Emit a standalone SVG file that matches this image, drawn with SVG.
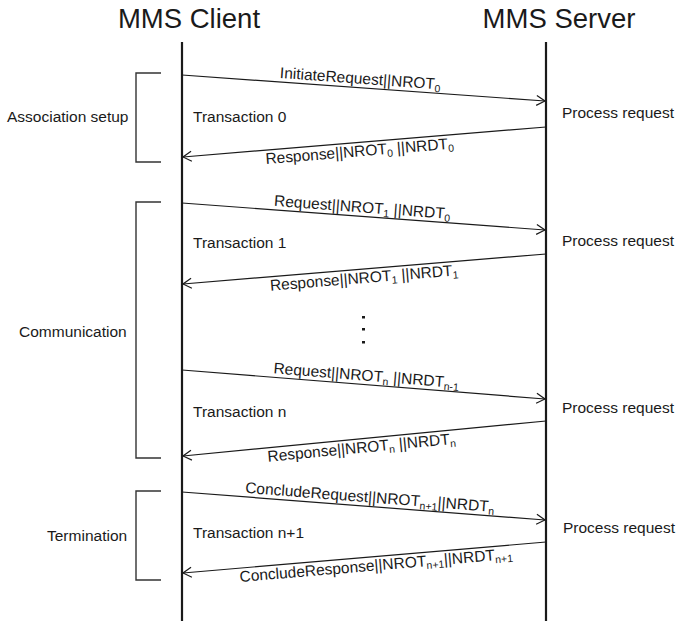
<svg xmlns="http://www.w3.org/2000/svg" width="676" height="621" viewBox="0 0 676 621">
<style>
text{font-family:"Liberation Sans",Arial,sans-serif;fill:#1a1a1a}
.title{font-size:27.5px;text-anchor:middle}
.lbl{font-size:15.5px}
.msg{font-size:15.5px;text-anchor:middle}
.sub{font-size:10.5px}
.life{stroke:#1a1a1a;stroke-width:2.2;fill:none}
.arrow{stroke:#1a1a1a;stroke-width:1.2;fill:none;marker-end:url(#ah)}
.br{stroke:#333;stroke-width:1.4;fill:none}
</style>
<defs>
<marker id="ah" markerUnits="userSpaceOnUse" markerWidth="12" markerHeight="12" refX="10" refY="6" orient="auto">
<path d="M1.5,1 L10,6 L1.5,11" fill="none" stroke="#1a1a1a" stroke-width="1.2"/>
</marker>
</defs>
<rect width="676" height="621" fill="#fff"/>

<g id="client">
<text class="title" x="189" y="28">MMS Client</text>
<line class="life" x1="182" y1="42" x2="182" y2="621"/>
</g>
<g id="server">
<text class="title" x="559" y="28">MMS Server</text>
<line class="life" x1="546" y1="42" x2="546" y2="621"/>
</g>

<g id="phase-association">
<path class="br" d="M161,73 H136 V162 H161"/>
<text class="lbl" x="7" y="122">Association setup</text>
</g>
<g id="phase-communication">
<path class="br" d="M161,202 H136 V458 H161"/>
<text class="lbl" x="19" y="337">Communication</text>
</g>
<g id="phase-termination">
<path class="br" d="M161,491 H136 V580 H161"/>
<text class="lbl" x="47" y="541">Termination</text>
</g>

<g id="transactions">
<text class="lbl" x="193" y="122">Transaction 0</text>
<text class="lbl" x="193" y="248">Transaction 1</text>
<text class="lbl" x="193" y="417">Transaction n</text>
<text class="lbl" x="193" y="538">Transaction n+1</text>
</g>
<g id="server-process">
<text class="lbl" x="562" y="118">Process request</text>
<text class="lbl" x="562" y="246">Process request</text>
<text class="lbl" x="562" y="413">Process request</text>
<text class="lbl" x="563" y="533">Process request</text>
</g>

<g id="dots" fill="#1a1a1a">
<rect x="362" y="316" width="3" height="2.5"/>
<rect x="362" y="328" width="3" height="2.5"/>
<rect x="362" y="341" width="3" height="2.5"/>
</g>

<g id="connectors">
<line class="arrow" x1="182" y1="75" x2="545" y2="101"/>
<line class="arrow" x1="546" y1="127" x2="183" y2="157"/>
<line class="arrow" x1="182" y1="203" x2="545" y2="230"/>
<line class="arrow" x1="546" y1="254" x2="183" y2="284"/>
<line class="arrow" x1="182" y1="370" x2="545" y2="399"/>
<line class="arrow" x1="546" y1="421" x2="183" y2="456"/>
<line class="arrow" x1="182" y1="492" x2="545" y2="520"/>
<line class="arrow" x1="546" y1="542" x2="183" y2="573"/>
</g>

<g id="connector-labels">
<text class="msg" transform="translate(360,83.7) rotate(4.09)">InitiateRequest||NROT<tspan class="sub" dy="3">0</tspan></text>
<text class="msg" transform="translate(360,156.3) rotate(-4.71)">Response||NROT<tspan class="sub" dy="3">0</tspan><tspan dy="-3"> ||NRDT</tspan><tspan class="sub" dy="3">0</tspan></text>
<text class="msg" transform="translate(362,212.4) rotate(4.24)">Request||NROT<tspan class="sub" dy="3">1</tspan><tspan dy="-3"> ||NRDT</tspan><tspan class="sub" dy="3">0</tspan></text>
<text class="msg" transform="translate(364.5,283) rotate(-4.71)">Response||NROT<tspan class="sub" dy="3">1</tspan><tspan dy="-3"> ||NRDT</tspan><tspan class="sub" dy="3">1</tspan></text>
<text class="msg" transform="translate(366,380.7) rotate(4.55)">Request||NROT<tspan class="sub" dy="3">n</tspan><tspan dy="-3"> ||NRDT</tspan><tspan class="sub" dy="3">n-1</tspan></text>
<text class="msg" transform="translate(362,452.7) rotate(-5.49)">Response||NROT<tspan class="sub" dy="3">n</tspan><tspan dy="-3"> ||NRDT</tspan><tspan class="sub" dy="3">n</tspan></text>
<text class="msg" transform="translate(369.5,502.4) rotate(4.40)">ConcludeRequest||NROT<tspan class="sub" dy="3">n+1</tspan><tspan dy="-3">||NRDT</tspan><tspan class="sub" dy="3">n</tspan></text>
<text class="msg" transform="translate(376.5,570.4) rotate(-4.87)">ConcludeResponse||NROT<tspan class="sub" dy="3">n+1</tspan><tspan dy="-3">||NRDT</tspan><tspan class="sub" dy="3">n+1</tspan></text>
</g>
</svg>
